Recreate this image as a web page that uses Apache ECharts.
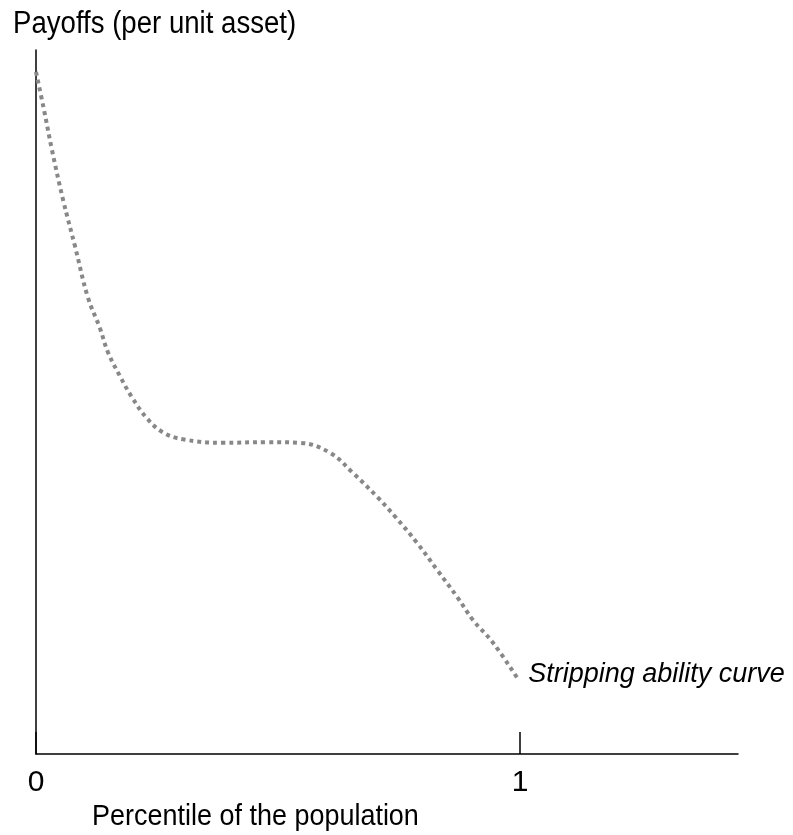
<!DOCTYPE html>
<html>
<head>
<meta charset="utf-8">
<script src="https://cdn.jsdelivr.net/npm/echarts@6/dist/echarts.min.js"></script>
<style>
html,body{margin:0;padding:0;background:#fff;}
#chart{width:793px;height:835px;}
</style>
</head>
<body>
<div id="chart"></div>
<script>
// Percentile of the population (x) and payoff per unit asset (y, axis top = 1)
var percentile = [0, 0.0165, 0.033, 0.056, 0.081, 0.107, 0.132, 0.149, 0.174, 0.198, 0.229, 0.262, 0.304, 0.386, 0.477, 0.545, 0.607, 0.655, 0.705, 0.742, 0.787, 0.829, 0.870, 0.903, 0.944, 0.994];
var payoff = [0.969, 0.915, 0.858, 0.787, 0.720, 0.649, 0.605, 0.570, 0.536, 0.507, 0.477, 0.457, 0.447, 0.442, 0.443, 0.442, 0.428, 0.399, 0.365, 0.337, 0.300, 0.261, 0.223, 0.190, 0.158, 0.108];
var xTicks = [0, 1];
var xTickLabels = ['0', '1'];
var yTitle = 'Payoffs (per unit asset)';
var xTitle = 'Percentile of the population';
var curveName = 'Stripping ability curve';

var FONT = '"Liberation Sans", Arial, sans-serif';
var chart = echarts.init(document.getElementById('chart'));
var pts = percentile.map(function (x, i) { return [x, payoff[i]]; });

chart.setOption({
  animation: false,
  backgroundColor: '#fff',
  graphic: [
    { type: 'text', x: 13, y: 24, scaleX: 0.89,
      style: { text: yTitle, font: '31px "Liberation Sans", Arial, sans-serif', fill: '#000', align: 'left', verticalAlign: 'middle' } },
    { type: 'text', x: 92, y: 817, scaleX: 0.93,
      style: { text: xTitle, font: '29px "Liberation Sans", Arial, sans-serif', fill: '#000', align: 'left', verticalAlign: 'middle' } }
  ],
  grid: { left: 36, right: 55, top: 50, bottom: 81, containLabel: false },
  xAxis: {
    type: 'value', min: 0, max: 1.45,
    axisLine: { show: true, lineStyle: { color: '#000', width: 1.5 } },
    axisTick: { show: true, inside: true, length: 22, customValues: xTicks, lineStyle: { color: '#000', width: 1.5 } },
    axisLabel: {
      show: true, customValues: xTicks, margin: 14,
      formatter: function (v) { var i = xTicks.indexOf(v); return i >= 0 ? xTickLabels[i] : ''; },
      fontFamily: FONT, fontSize: 30, color: '#000'
    },
    splitLine: { show: false }
  },
  yAxis: {
    type: 'value', min: 0, max: 1,
    axisLine: { show: true, lineStyle: { color: '#000', width: 1.5 } },
    axisTick: { show: false }, axisLabel: { show: false }, splitLine: { show: false }
  },
  series: [{
    type: 'line', data: pts, smooth: 0.4, showSymbol: false, symbol: 'none',
    lineStyle: { color: '#888888', width: 4, type: [4, 4] },
    endLabel: {
      show: true, formatter: curveName, distance: 11, offset: [0, -3],
      fontFamily: FONT, fontSize: 27, fontStyle: 'italic', color: '#000'
    }
  }]
});
</script>
</body>
</html>
